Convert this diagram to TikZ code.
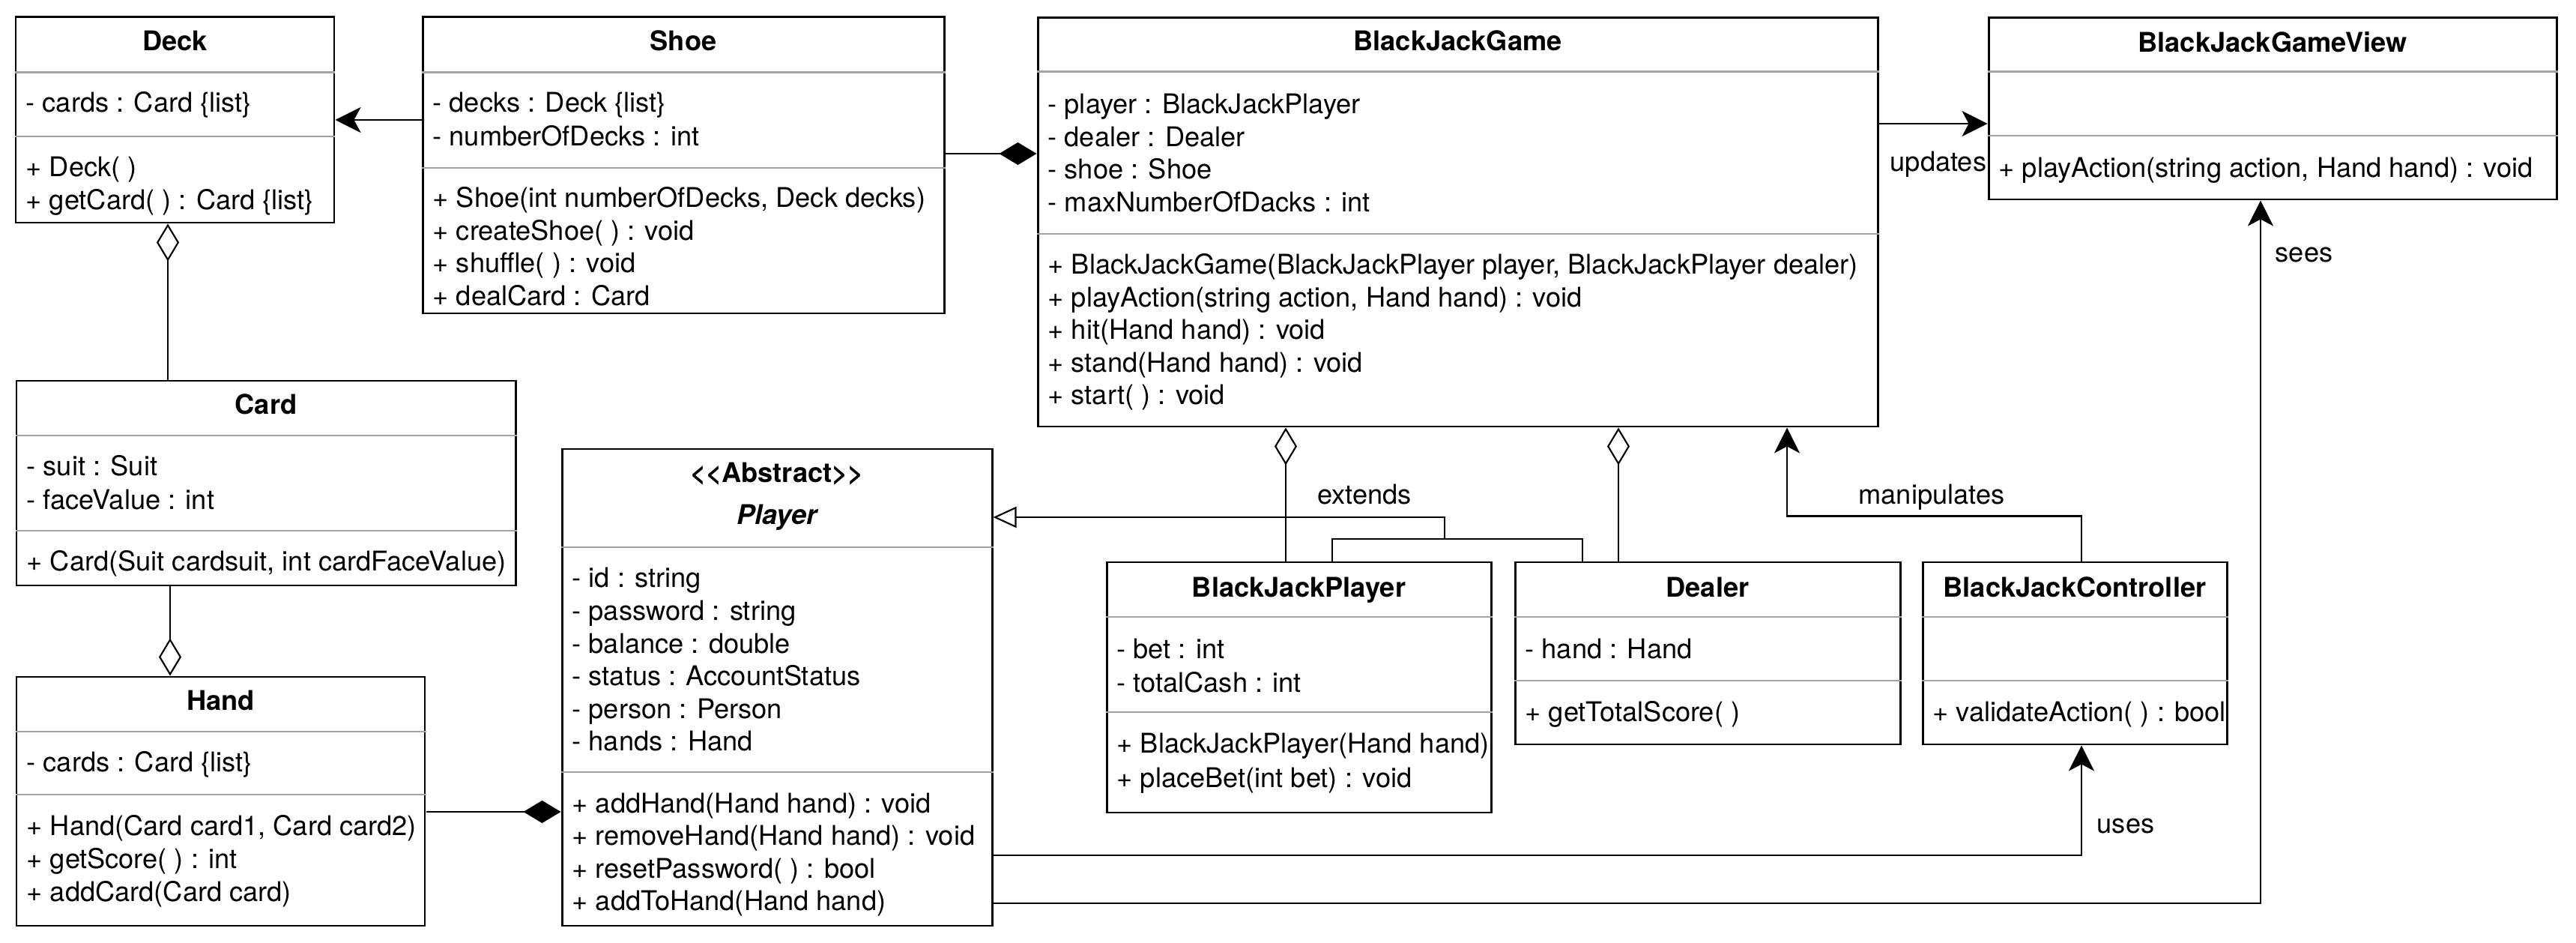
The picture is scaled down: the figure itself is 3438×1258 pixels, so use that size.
\documentclass[tikz,border=0pt]{standalone}
\usepackage{fontspec}
\usetikzlibrary{arrows.meta,fit}
\newfontfamily\umlfont{TeX Gyre Heros}
\newcommand{\umlsize}{\fontsize{10.3}{12}\selectfont}
\definecolor{divgray}{HTML}{A3A3A3}
\tikzset{
  umlbox/.style = {draw, line width=0.85pt, fill=white, inner sep=0pt},
  divider/.style = {draw=divgray, line width=0.85pt},
  classname/.style = {font=\umlfont\umlsize\bfseries, anchor=base, inner sep=0pt},
  member/.style = {font=\umlfont\umlsize, anchor=base west, inner sep=0pt},
  rellabel/.style = {font=\umlfont\umlsize, anchor=base, inner sep=0pt},
  relation/.style = {line width=0.6pt},
  assoc/.style = {relation, -{Stealth[length=0.34cm, width=0.34cm, inset=0.09cm]}},
  aggr/.style = {relation, {Diamond[open, length=0.5cm, width=0.3cm]}-},
  comp/.style = {relation, {Diamond[length=0.5cm, width=0.3cm]}-},
  gen/.style = {relation, -{Triangle[open, length=0.31cm, width=0.28cm]}}
}

\begin{document}
\begin{tikzpicture}[x=0.01cm, y=-0.01cm]
  \fill[white] (0,0) rectangle (3438,1258);
  \useasboundingbox (0,0) rectangle (3438,1258);

  % class frames
  \foreach \n/\xa/\ya/\xb/\yb in {deck/21/23/446/297, shoe/564/23/1260/418,
      game/1385/24/2506/569, view/2654/24/3412/266, card/22/508/688/781,
      hand/22/903/567/1235, player/750/599/1324/1235, bjplayer/1477/750/1990/1084,
      dealer/2022/750/2536/993, ctrl/2566/750/2972/993}
    \node[umlbox, fit={(\xa,\ya) (\xb,\yb)}] (\n) {};

  % compartment lines
  \foreach \n/\y in {deck/97, deck/182, shoe/97, shoe/224, game/96, game/312,
      view/96, view/181, card/581, card/708, hand/976, hand/1060, player/730,
      player/1030, bjplayer/823, bjplayer/950, dealer/823, dealer/908,
      ctrl/823, ctrl/908}
    \draw[divider] (\n.west |- 0,\y) -- (\n.east |- 0,\y);

  % class names
  \foreach \n/\t/\y in {deck/Deck/67.5, shoe/Shoe/67.5, game/BlackJackGame/67.5,
      view/BlackJackGameView/69.5, card/Card/552.5, hand/Hand/947.5,
      bjplayer/BlackJackPlayer/796.5, dealer/Dealer/796.5,
      ctrl/BlackJackController/796.5}
    \node[classname] (\n-name) at (\n.north |- 0,\y) {\t};
  \node[classname] (player-stereo) at (player.north |- 0,643.5) {<<Abstract>>};
  \node[classname, font=\umlfont\umlsize\bfseries\itshape] (player-name)
    at (player.north |- 0,699.5) {Player};

  % members
  \node[member] (deck-a0) at (34,150) {- cards : Card \{list\}};
  \foreach \t [count=\i from 0] in {+ Deck( ), + getCard( ) : Card \{list\}}
    \node[member] (deck-m\i) at (34,236+44*\i) {\t};

  \foreach \t [count=\i from 0] in {- decks : Deck \{list\}, - numberOfDecks : int}
    \node[member] (shoe-a\i) at (577,150+44.5*\i) {\t};
  \foreach \t [count=\i from 0] in {{+ Shoe(int numberOfDecks, Deck decks)},
      + createShoe( ) : void, + shuffle( ) : void, + dealCard : Card}
    \node[member] (shoe-m\i) at (577,277+43.5*\i) {\t};

  \foreach \t [count=\i from 0] in {- player : BlackJackPlayer, - dealer : Dealer,
      - shoe : Shoe, - maxNumberOfDacks : int}
    \node[member] (game-a\i) at (1398,152+43.5*\i) {\t};
  \foreach \t [count=\i from 0] in {{+ BlackJackGame(BlackJackPlayer player, BlackJackPlayer dealer)},
      {+ playAction(string action, Hand hand) : void}, + hit(Hand hand) : void,
      + stand(Hand hand) : void, + start( ) : void}
    \node[member] (game-m\i) at (1398,366+43.5*\i) {\t};

  \node[member] (view-m0) at (2667,236.5) {+ playAction(string action, Hand hand) : void};

  \foreach \t [count=\i from 0] in {- suit : Suit, - faceValue : int}
    \node[member] (card-a\i) at (35,634.5+45*\i) {\t};
  \node[member] (card-m0) at (35,761.5) {+ Card(Suit cardsuit, int cardFaceValue)};

  \node[member] (hand-a0) at (35,1029.5) {- cards : Card \{list\}};
  \foreach \t [count=\i from 0] in {{+ Hand(Card card1, Card card2)},
      + getScore( ) : int, + addCard(Card card)}
    \node[member] (hand-m\i) at (35,1114.5+44*\i) {\t};

  \foreach \t [count=\i from 0] in {- id : string, - password : string,
      - balance : double, - status : AccountStatus, - person : Person, - hands : Hand}
    \node[member] (player-a\i) at (763,784+43.5*\i) {\t};
  \foreach \t [count=\i from 0] in {+ addHand(Hand hand) : void,
      + removeHand(Hand hand) : void, + resetPassword( ) : bool, + addToHand(Hand hand)}
    \node[member] (player-m\i) at (763,1084+43.5*\i) {\t};

  \foreach \t [count=\i from 0] in {- bet : int, - totalCash : int}
    \node[member] (bjplayer-a\i) at (1490,878.5+45*\i) {\t};
  \foreach \t [count=\i from 0] in {+ BlackJackPlayer(Hand hand), + placeBet(int bet) : void}
    \node[member] (bjplayer-m\i) at (1490,1004.5+46*\i) {\t};

  \node[member] (dealer-a0) at (2035,878.5) {- hand : Hand};
  \node[member] (dealer-m0) at (2035,962.5) {+ getTotalScore( )};
  \node[member] (ctrl-m0) at (2579,962.5) {+ validateAction( ) : bool};

  % relations
  \draw[assoc] (shoe.west |- deck.east) -- (deck.east);
  \draw[comp] (game.west |- 0,205) -- (shoe.east |- 0,205);
  \draw[aggr] (deck.south -| 224,0) -- (card.north -| 224,0);
  \draw[aggr] (hand.north -| 227,0) -- (card.south -| 227,0);
  \draw[comp] (player.west |- 0,1083) -- (hand.east |- 0,1083);
  \draw[aggr] (game.south -| 1716,0) -- (bjplayer.north -| 1716,0);
  \draw[aggr] (game.south -| 2160,0) -- (dealer.north -| 2160,0);
  \coordinate (ext) at (1928,719);
  \draw[gen] (bjplayer.north -| 1778,0) |- (ext) |- (player.east |- 0,690);
  \draw[relation] (dealer.north -| 2112,0) |- (ext);
  \draw[assoc] (ctrl.north -| 2778,0) -- ++(0,-60) -| (game.south -| 2385,0);
  \draw[assoc] (player.east |- 0,1141) -| (ctrl.south -| 2778,0);
  \draw[assoc] (player.east |- 0,1205) -| (view.south -| 3017,0);
  \draw[assoc] (game.east |- 0,165) -- (view.west |- 0,165);

  % relation labels
  \node[rellabel] (lbl-extends) at (1821,672.5) {extends};
  \node[rellabel] (lbl-manip) at (2578,672.5) {manipulates};
  \node[rellabel] (lbl-updates) at (2587,228.5) {updates};
  \node[rellabel] (lbl-uses) at (2837,1111.5) {uses};
  \node[rellabel] (lbl-sees) at (3075,349.5) {sees};
\end{tikzpicture}
\end{document}
